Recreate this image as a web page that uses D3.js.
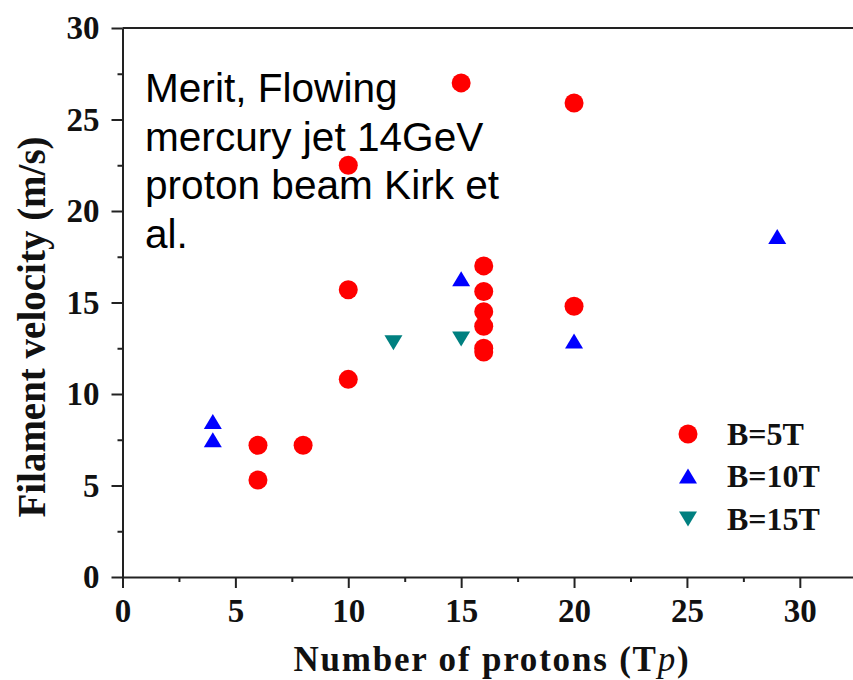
<!DOCTYPE html>
<html>
<head>
<meta charset="utf-8">
<script src="https://cdn.jsdelivr.net/npm/d3@7/dist/d3.min.js"></script>
<style>
  html, body { margin: 0; padding: 0; background: #fff; }
  svg { display: block; }
  .tick text { font-family: "Liberation Serif", "Times New Roman", serif; font-weight: bold; }
</style>
</head>
<body>
<script>
// Filament velocity vs. number of protons, by magnetic field strength
const b5Protons  = [6, 6, 8, 10, 10, 10, 15, 16, 16, 16, 16, 16, 16, 20, 20];
const b5Velocity = [7.2, 5.3, 7.2, 10.8, 15.7, 22.5, 27.0, 17.0, 15.6, 14.5, 13.7, 12.5, 12.3, 14.8, 25.9];

const b10Protons  = [4, 4, 15, 20, 29];
const b10Velocity = [8.5, 7.5, 16.3, 12.9, 18.6];

const b15Protons  = [12, 15];
const b15Velocity = [12.8, 13.0];

const seriesNames = ["B=5T", "B=10T", "B=15T"];
const seriesColors = ["#ff0000", "#0000ff", "#008080"];
const seriesShapes = ["circle", "up", "down"];

const xMajorTicks = [0, 5, 10, 15, 20, 25, 30];
const xMinorTicks = [2.5, 7.5, 12.5, 17.5, 22.5, 27.5];
const yMajorTicks = [0, 5, 10, 15, 20, 25, 30];
const yMinorTicks = [2.5, 7.5, 12.5, 17.5, 22.5, 27.5];

const noteLines = ["Merit, Flowing", "mercury jet 14GeV", "proton beam Kirk et", "al."];

const W = 853, H = 680;
const svg = d3.select("body").append("svg").attr("width", W).attr("height", H);

const x = d3.scaleLinear().domain([0, 32.4]).range([122.5, 854]);
const y = d3.scaleLinear().domain([0, 30]).range([577, 28]);

const axisColor = "#222";

// minor ticks
svg.append("g")
  .attr("transform", `translate(0,${y(0)})`)
  .call(d3.axisBottom(x).tickValues(xMinorTicks).tickSize(5).tickFormat(""))
  .call(g => g.select(".domain").remove());
svg.append("g")
  .attr("transform", `translate(${x(0)},0)`)
  .call(d3.axisLeft(y).tickValues(yMinorTicks).tickSize(5).tickFormat(""))
  .call(g => g.select(".domain").remove());

// major axes
svg.append("g")
  .attr("transform", `translate(0,${y(0)})`)
  .call(d3.axisBottom(x).tickValues(xMajorTicks).tickSize(11).tickSizeOuter(0).tickPadding(11).tickFormat(d3.format("d")));
svg.append("g")
  .attr("transform", `translate(${x(0)},0)`)
  .call(d3.axisLeft(y).tickValues(yMajorTicks).tickSize(11).tickSizeOuter(0).tickPadding(12).tickFormat(d3.format("d")));

svg.selectAll(".tick line, .domain").attr("stroke", axisColor).attr("stroke-width", 2);
svg.selectAll(".tick text").attr("fill", "#111").style("font-size", "33px");

// top frame line
svg.append("line")
  .attr("x1", x(0)).attr("x2", x.range()[1])
  .attr("y1", y(30)).attr("y2", y(30))
  .attr("stroke", axisColor).attr("stroke-width", 2);

// axis titles
svg.append("text")
  .attr("x", 492).attr("y", 671)
  .attr("text-anchor", "middle")
  .style("font-family", '"Liberation Serif", "Times New Roman", serif')
  .style("font-weight", "bold")
  .style("font-size", "35px")
  .style("letter-spacing", "1.8px")
  .attr("fill", "#111")
  .call(t => {
    t.append("tspan").text("Number of protons (T");
    t.append("tspan").style("font-style", "italic").style("font-weight", "normal").text("p");
    t.append("tspan").text(")");
  });

svg.append("text")
  .attr("transform", "translate(45,327) rotate(-90)")
  .attr("text-anchor", "middle")
  .style("font-family", '"Liberation Serif", "Times New Roman", serif')
  .style("font-weight", "bold")
  .style("font-size", "39px")
  .attr("fill", "#111")
  .text("Filament velocity (m/s)");

// annotation
const note = svg.append("text")
  .style("font-family", '"Liberation Sans", Arial, sans-serif')
  .style("font-size", "40.6px")
  .attr("fill", "#000");
noteLines.forEach((line, i) => {
  note.append("tspan").attr("x", 145).attr("y", 101.7 + i * 48.8).text(line);
});

// marker shapes
function markerPath(shape) {
  if (shape === "up") return "M0,-7.5L9,7.5L-9,7.5Z";
  if (shape === "down") return "M0,7.5L9,-7.5L-9,-7.5Z";
  return d3.arc()({ innerRadius: 0, outerRadius: 9.5, startAngle: 0, endAngle: 2 * Math.PI });
}

const series = [
  { px: b5Protons, vy: b5Velocity },
  { px: b10Protons, vy: b10Velocity },
  { px: b15Protons, vy: b15Velocity }
];

series.forEach((s, k) => {
  const pts = s.px.map((p, i) => ({ p, v: s.vy[i] }));
  svg.append("g").selectAll("path")
    .data(pts)
    .join("path")
    .attr("d", markerPath(seriesShapes[k]))
    .attr("transform", d => `translate(${x(d.p)},${y(d.v)})`)
    .attr("fill", seriesColors[k]);
});

// legend
const legendRowY = [434, 476, 519];
const legend = svg.append("g");
seriesNames.forEach((name, k) => {
  legend.append("path")
    .attr("d", markerPath(seriesShapes[k]))
    .attr("transform", `translate(688,${legendRowY[k]})`)
    .attr("fill", seriesColors[k]);
  legend.append("text")
    .attr("x", 727).attr("y", legendRowY[k] + 11)
    .style("font-family", '"Liberation Serif", "Times New Roman", serif')
    .style("font-weight", "bold")
    .style("font-size", "32px")
    .attr("fill", "#111")
    .text(name);
});
</script>
</body>
</html>
